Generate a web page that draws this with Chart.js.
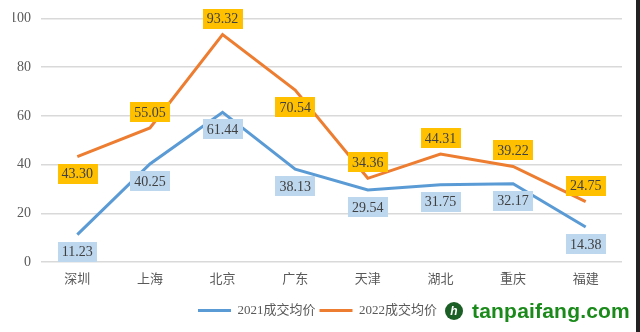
<!DOCTYPE html>
<html>
<head>
<meta charset="utf-8">
<script src="https://cdn.jsdelivr.net/npm/chart.js@4"></script>
<style>
  body { margin: 0; background: #fff; }
  #wrap { position: relative; width: 640px; height: 332px; overflow: hidden; }
  #edge { position: absolute; left: 636px; top: 0; width: 4px; height: 332px; background: #222; }
  #mark { position: absolute; left: 445px; top: 299px; height: 24px; display: flex; align-items: center; }
  #mark .logo { width: 18px; height: 18px; border-radius: 50%; background: #1b5e26; color: #fff;
    font: bold italic 12px "Liberation Sans"; text-align: center; line-height: 18px; margin-right: 9px; }
  #mark .txt { font: bold 21px "Liberation Sans", Arial, sans-serif; color: #1a8a1a; letter-spacing: 0.2px; }
</style>
</head>
<body>
<div id="wrap">
  <canvas id="grafico" width="640" height="332"></canvas>
  <div id="edge"></div>
  <div id="mark"><span class="logo">h</span><span class="txt">tanpaifang.com</span></div>
</div>
<script>
const ciudades = ["深圳", "上海", "北京", "广东", "天津", "湖北", "重庆", "福建"]
const precio2021 = [11.23, 40.25, 61.44, 38.13, 29.54, 31.75, 32.17, 14.38]
const precio2022 = [43.30, 55.05, 93.32, 70.54, 34.36, 44.31, 39.22, 24.75]
const ticksY = [0, 20, 40, 60, 80, 100]

// where each value label sits relative to its point
const lado2021 = ["below", "below", "below", "below", "below", "below", "below", "below"]
const lado2022 = ["below", "above", "above", "below", "above", "above", "above", "above"]

const colores = { azul: "#5B9BD5", naranja: "#ED7D31" }
const fondos = ["#BDD7EE", "#FFC000"]
const lados = [lado2021, lado2022]

const etiquetas = {
  id: "etiquetas",
  afterDatasetsDraw(chart) {
    const ctx = chart.ctx
    ctx.save()
    ctx.font = "14px 'Liberation Serif', serif"
    ctx.textAlign = "center"
    ctx.textBaseline = "middle"
    chart.data.datasets.forEach((ds, i) => {
      const meta = chart.getDatasetMeta(i)
      meta.data.forEach((pt, j) => {
        const txt = ds.data[j].toFixed(2)
        const w = ctx.measureText(txt).width + 8
        const h = 20
        const cy = lados[i][j] === "above" ? pt.y - 16 : pt.y + 17
        ctx.fillStyle = fondos[i]
        ctx.fillRect(Math.round(pt.x - w / 2), Math.round(cy - h / 2), Math.round(w), h)
        ctx.fillStyle = "#404040"
        ctx.fillText(txt, pt.x, cy + 1)
      })
    })
    ctx.restore()
  }
}

const config = {
  type: "line",
  data: {
    labels: ciudades,
    datasets: [
      {
        label: "2021成交均价",
        data: precio2021,
        borderColor: colores.azul,
        backgroundColor: colores.azul,
        borderWidth: 3,
        pointRadius: 0,
        tension: 0
      },
      {
        label: "2022成交均价",
        data: precio2022,
        borderColor: colores.naranja,
        backgroundColor: colores.naranja,
        borderWidth: 3,
        pointRadius: 0,
        tension: 0
      }
    ]
  },
  options: {
    responsive: false,
    animation: false,
    layout: { padding: { top: 16, right: 18, bottom: 5, left: 13 } },
    plugins: {
      tooltip: { enabled: false },
      legend: {
        position: "bottom",
        labels: {
          boxWidth: 33,
          boxHeight: 3,
          padding: 4,
          color: "#595959",
          font: { family: "'Liberation Serif', 'Noto Sans CJK SC', serif", size: 13 },
          generateLabels(chart) {
            return chart.data.datasets.map((ds, i) => ({
              text: ds.label,
              fillStyle: ds.borderColor,
              strokeStyle: ds.borderColor,
              lineWidth: 0,
              fontColor: "#595959",
              datasetIndex: i
            }))
          }
        }
      }
    },
    scales: {
      x: {
        offset: true,
        grid: { display: false, drawTicks: false },
        border: { display: false },
        ticks: {
          color: "#595959",
          padding: 8,
          font: { family: "'Noto Sans CJK SC', sans-serif", size: 13 }
        },
        afterFit(scale) { scale.height = 38 }
      },
      y: {
        min: 0,
        max: 100,
        afterBuildTicks(scale) { scale.ticks = ticksY.map(v => ({ value: v })) },
        grid: { color: "#D9D9D9", lineWidth: 1.5, drawTicks: false },
        border: { display: false },
        ticks: {
          color: "#595959",
          padding: 10,
          font: { family: "'Liberation Serif', serif", size: 14 }
        },
        afterFit(scale) { scale.width = 28 }
      }
    }
  },
  plugins: [etiquetas]
}

const chart = new Chart(document.getElementById("grafico"), config)
</script>
</body>
</html>
